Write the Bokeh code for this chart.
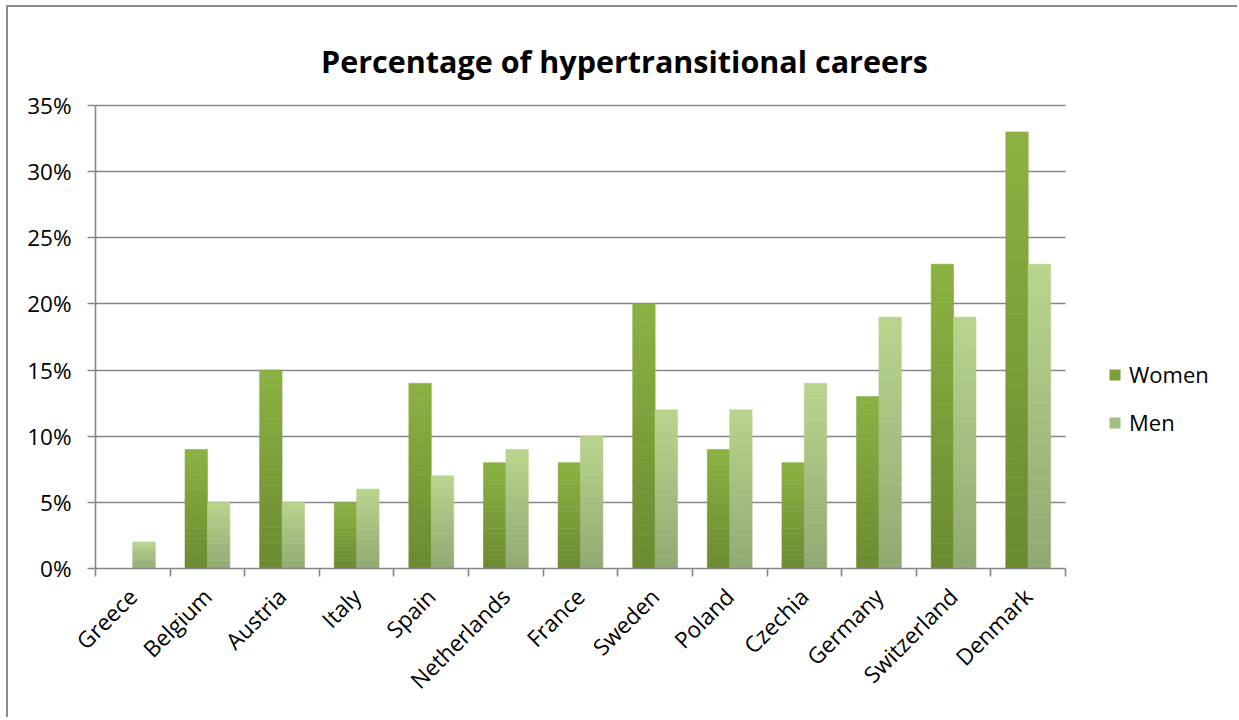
import math
from bokeh.plotting import figure
from bokeh.models import ColumnDataSource, FixedTicker, Legend, LegendItem, Range1d, Label, Grid
from bokeh.embed import file_html
from bokeh.resources import INLINE

# ---- data ----
countries = ["Greece", "Belgium", "Austria", "Italy", "Spain", "Netherlands", "France",
             "Sweden", "Poland", "Czechia", "Germany", "Switzerland", "Denmark"]
women = [0, 9, 15, 5, 14, 8, 8, 20, 9, 8, 13, 23, 33]
men = [2, 5, 5, 6, 7, 9, 10, 12, 12, 14, 19, 19, 23]
y_ticks = [0, 5, 10, 15, 20, 25, 30, 35]
y_tick_labels = ["0%", "5%", "10%", "15%", "20%", "25%", "30%", "35%"]
title_text = "Percentage of hypertransitional careers"

FONT = "Open Sans"
GRID = "#878787"
W, H = 1231, 712
OX, OY = 8, 7                 # page offset of the figure content (margin + border)
AX_LEFT, AX_RIGHT = 95, 1065  # category area, page px
AX_TOP, AX_BOTTOM = 105, 568  # value area, page px
FRAME_TOP = 12
RIGHT_PAD = 5
n = len(countries)
ymax = y_ticks[-1]

frame_w = W - (AX_LEFT - OX) - RIGHT_PAD
x_end = n * frame_w / (AX_RIGHT - AX_LEFT)
y_end = ymax * (AX_BOTTOM - FRAME_TOP) / (AX_BOTTOM - AX_TOP)

p = figure(width=W, height=H, x_range=Range1d(0, x_end), y_range=Range1d(0, y_end),
           output_backend="svg", toolbar_location=None,
           min_border_left=AX_LEFT - OX, min_border_right=RIGHT_PAD,
           min_border_top=FRAME_TOP - OY, min_border_bottom=H + OY - AX_BOTTOM)
p.styles = {"border-left": "2px solid #8c8c8c", "border-top": "2px solid #8c8c8c",
            "margin-left": "6px", "margin-top": "5px"}
p.outline_line_color = None
p.background_fill_color = "white"
p.border_fill_color = "white"


def hex2rgb(h):
    h = h.lstrip("#")
    return [int(h[i:i + 2], 16) for i in (0, 2, 4)]


def mix(c0, c1, t):
    a, b = hex2rgb(c0), hex2rgb(c1)
    return "#%02x%02x%02x" % tuple(int(round(a[j] + (b[j] - a[j]) * t)) for j in range(3))


# grid
p.xgrid.visible = False
p.ygrid.ticker = FixedTicker(ticks=y_ticks)
p.ygrid.grid_line_color = GRID
p.ygrid.grid_line_width = 1.6
if "cross_bounds" in Grid.properties():
    p.ygrid.cross_bounds = (0, n)
else:
    p.ygrid.visible = False
    gr = p.segment(x0=[0] * len(y_ticks), x1=[n] * len(y_ticks), y0=y_ticks, y1=y_ticks,
                   line_color=GRID, line_width=1.6)
    gr.level = "underlay"

N = 24
series = [("Women", women, "#6a8a30", "#8cb242", -0.15),
          ("Men", men, "#92a872", "#b9d58d", 0.15)]
renderers = {}
for name, vals, c_bot, c_top, off in series:
    xs, bots, tops, cols = [], [], [], []
    for i, v in enumerate(vals):
        for k in range(N):
            xs.append(i + 0.5 + off)
            bots.append(v * k / N)
            tops.append(v * (k + 1) / N)
            cols.append(mix(c_bot, c_top, (k + 0.5) / N))
    src = ColumnDataSource(dict(x=xs, bottom=bots, top=tops, color=cols))
    r = p.vbar(x="x", bottom="bottom", top="top", width=0.3, source=src,
               fill_color="color", line_color="color", line_width=0.6)
    renderers[name] = r

ya = p.yaxis[0]
ya.ticker = FixedTicker(ticks=y_ticks)
ya.bounds = (0, ymax)
ya.major_label_overrides = {t: l for t, l in zip(y_ticks, y_tick_labels)}
ya.axis_line_color = GRID
ya.axis_line_width = 1.6
ya.major_tick_line_color = GRID
ya.major_tick_line_width = 1.6
ya.major_tick_out = 8
ya.major_tick_in = 0
ya.minor_tick_line_color = None
ya.major_label_text_font = FONT
ya.major_label_text_font_size = "22.5px"
ya.major_label_text_color = "black"
ya.major_label_standoff = 16

xa = p.xaxis[0]
centers = [i + 0.5 for i in range(n)]
xa.ticker = FixedTicker(ticks=centers, minor_ticks=list(range(n + 1)))
xa.bounds = (0, n)
xa.major_label_overrides = {c: nm for c, nm in zip(centers, countries)}
xa.axis_line_color = GRID
xa.axis_line_width = 1.6
xa.major_tick_line_color = None
xa.minor_tick_line_color = GRID
xa.minor_tick_line_width = 1.6
xa.minor_tick_out = 8
xa.minor_tick_in = 0
xa.major_label_orientation = math.pi / 4
xa.major_label_text_font = FONT
xa.major_label_text_font_size = "22.5px"
xa.major_label_text_color = "black"
xa.major_label_standoff = 16

# chart title (inside the extended frame, above the value area)
title = Label(x=624 - AX_LEFT, y=AX_BOTTOM - 60, x_units="screen", y_units="screen",
              text=title_text, text_align="center", text_baseline="alphabetic",
              text_font=FONT, text_font_size="30.5px", text_font_style="bold", text_color="black")
p.add_layout(title)

legend = Legend(items=[LegendItem(label="Women", renderers=[renderers["Women"]], index=N // 2),
                       LegendItem(label="Men", renderers=[renderers["Men"]], index=N // 2)],
                location=(1013, 131))
legend.glyph_width = 13
legend.glyph_height = 13
legend.label_text_font = FONT
legend.label_text_font_size = "22px"
legend.label_text_color = "black"
legend.label_standoff = 8
legend.spacing = 18
legend.padding = 0
legend.margin = 0
legend.border_line_color = None
legend.background_fill_alpha = 0
p.add_layout(legend, "center")

open("out.html", "w").write(file_html(p, INLINE))
